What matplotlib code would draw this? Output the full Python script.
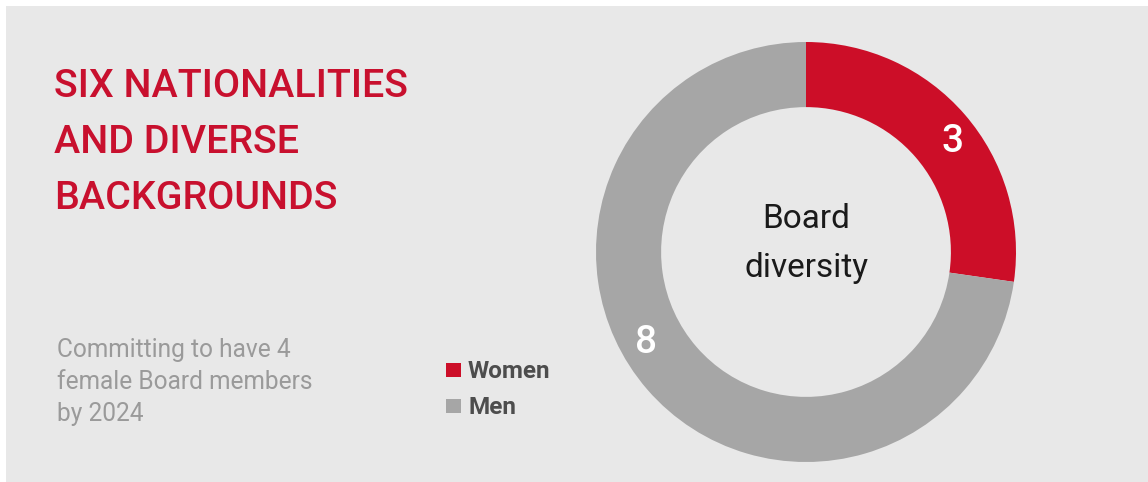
import numpy as np
import matplotlib
matplotlib.use("Agg")
import matplotlib.pyplot as plt
from matplotlib.patches import Rectangle

# ---- data ----
categories = ["Women", "Men"]
values = [3, 8]
colors = ["#cc0e28", "#a6a6a6"]
title_lines = ["SIX NATIONALITIES", "AND DIVERSE", "BACKGROUNDS"]
subtitle_lines = ["Committing to have 4", "female Board members", "by 2024"]
center_lines = ["Board", "diversity"]

W, H = 1148, 482
DPI = 100
fig = plt.figure(figsize=(W / DPI, H / DPI), dpi=DPI, facecolor="white")
FONT = ["Roboto", "DejaVu Sans"]

# light gray panel with thin white margin at top/left
fig.patches.append(Rectangle((6 / W, 0), 1, (H - 6) / H, transform=fig.transFigure,
                             facecolor="#e8e8e8", edgecolor="none", zorder=-5))

def px(x, y):
    return x / W, 1 - y / H

renderer = fig.canvas.get_renderer()

def fit_width(t, target):
    bb = t.get_window_extent(renderer=renderer)
    t.set_fontsize(t.get_fontsize() * target / bb.width)

# title
title_base = [97, 153, 209]
title_texts = []
for line, yb in zip(title_lines, title_base):
    t = fig.text(*px(54, yb), line, color="#c8102e", fontsize=30, family=FONT,
                 fontweight="medium", ha="left", va="baseline")
    title_texts.append(t)
fit_width(title_texts[0], 354)
for t in title_texts[1:]:
    t.set_fontsize(title_texts[0].get_fontsize())

# subtitle
sub_base = [357, 389, 421]
sub_texts = []
for line, yb in zip(subtitle_lines, sub_base):
    t = fig.text(*px(57, yb), line, color="#9a9a9a", fontsize=17, family=FONT,
                 ha="left", va="baseline")
    sub_texts.append(t)
fit_width(sub_texts[1], 257)
for t in sub_texts:
    t.set_fontsize(sub_texts[1].get_fontsize())

# legend
leg_y = [370, 406]
for cat, col, yc in zip(categories, colors, leg_y):
    fig.patches.append(Rectangle(px(446, yc + 7), 15 / W, 14 / H, transform=fig.transFigure,
                                 facecolor=col, edgecolor="none"))
    fig.text(*px(468, yc + 8), cat, color="#4d4d4d", fontsize=17.5, family=FONT,
             fontweight="bold", ha="left", va="baseline")

# donut
cx, cy, R = 806, 252, 210
ax = fig.add_axes([(cx - R) / W, (H - cy - R) / H, 2 * R / W, 2 * R / H])
ax.set_zorder(2)
ring = 0.31
wedges, _ = ax.pie(values, colors=colors, startangle=90, counterclock=False,
                   radius=1, wedgeprops=dict(width=ring, edgecolor="none"))
ax.set_xlim(-1, 1)
ax.set_ylim(-1, 1)
ax.set_aspect("equal")
ax.axis("off")

# value labels on the ring
label_angles = [37, 209.5]
rl = 0.875
for v, ang in zip(values, label_angles):
    a = np.deg2rad(ang)
    ax.text(rl * np.cos(a), rl * np.sin(a), str(v), color="white", fontsize=28,
            family=FONT, fontweight="medium", ha="center", va="center")

# center text
ax.text(0, 0.114, center_lines[0], ha="center", va="baseline", fontsize=24,
        family=FONT, color="#1a1a1a")
ax.text(0, -0.119, center_lines[1], ha="center", va="baseline", fontsize=24,
        family=FONT, color="#1a1a1a")

fig.savefig("out.png", dpi=DPI, facecolor=fig.get_facecolor())
